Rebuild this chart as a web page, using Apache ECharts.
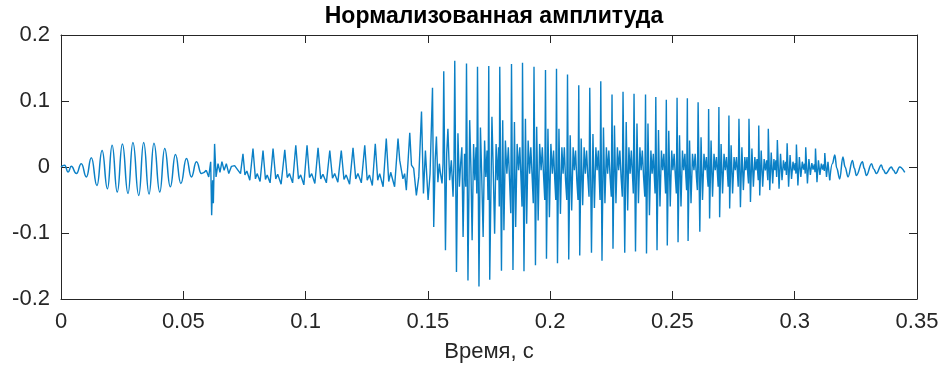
<!DOCTYPE html>
<html>
<head>
<meta charset="utf-8">
<script src="https://cdn.jsdelivr.net/npm/echarts@6/dist/echarts.min.js"></script>
<style>
html,body{margin:0;padding:0;background:#fff;}
#chart{width:944px;height:372px;}
</style>
</head>
<body>
<div id="chart"></div>
<script>
// ---- data: [time (s), normalized amplitude] ----
var titleText = 'Нормализованная амплитуда';
var xLabel = 'Время, с';
var xTicks = [0, 0.05, 0.1, 0.15, 0.2, 0.25, 0.3, 0.35];
var yTicks = [-0.2, -0.1, 0, 0.1, 0.2];

// quiet start with low-frequency oscillation and click near 0.062 s
var segStart = [
[0,0],[0.0015,0.0025],[0.0029,-0.0076],[0.0042,0.001],[0.0063,-0.010],[0.0083,0.005],[0.0104,-0.015],[0.0124,0.014],[0.0147,-0.028],[0.0168,0.025],[0.0190,-0.033],[0.0209,0.033],[0.0230,-0.038],[0.0251,0.035],[0.0274,-0.040],[0.0294,0.037],[0.0318,-0.043],[0.0338,0.037],[0.0360,-0.041],[0.0380,0.036],[0.0404,-0.038],[0.0424,0.028],[0.0447,-0.030],[0.0468,0.019],[0.0490,-0.025],[0.0513,0.013],[0.0533,-0.015],[0.0554,0.008],[0.0574,-0.010],[0.0594,-0.005]
];

// click near 0.062 s and low-amplitude periodic part 0.072 - 0.151 s
var segLow = [
[0.0594,-0.005],[0.0604,-0.015],[0.0612,0.008],[0.0616,-0.073],[0.0620,-0.020],[0.0623,-0.055],[0.0628,0.035],[0.0634,-0.015],[0.0642,0.005],[0.0650,-0.008],[0.0658,0.008],[0.0667,-0.005],[0.0676,0.005],[0.0686,-0.010],[0.0697,0.001],[0.0710,0.002],
[0.0724,-0.005],[0.0734,-0.010],[0.0744,0.020],[0.0752,-0.012],[0.0760,-0.006],[0.0772,-0.020],
[0.0785,0.028],[0.0795,-0.018],[0.0802,-0.010],[0.0814,-0.022],
[0.0826,0.025],[0.0836,-0.019],[0.0843,-0.012],[0.0855,-0.024],
[0.0867,0.028],[0.0878,-0.018],[0.0886,-0.011],[0.0900,-0.026],
[0.0915,0.026],[0.0925,-0.016],[0.0934,-0.010],[0.0947,-0.024],
[0.0960,0.033],[0.0971,-0.018],[0.0980,-0.012],[0.0993,-0.027],
[0.1006,0.033],[0.1016,-0.016],[0.1025,-0.010],[0.1038,-0.025],
[0.1051,0.029],[0.1062,-0.018],[0.1071,-0.011],[0.1085,-0.024],
[0.1099,0.025],[0.1110,-0.017],[0.1119,-0.010],[0.1132,-0.023],
[0.1146,0.025],[0.1157,-0.019],[0.1166,-0.012],[0.1180,-0.026],
[0.1194,0.029],[0.1205,-0.018],[0.1214,-0.010],[0.1228,-0.024],
[0.1242,0.033],[0.1252,-0.020],[0.1261,-0.012],[0.1273,-0.028],
[0.1285,0.035],[0.1295,-0.020],[0.1303,-0.010],[0.1317,-0.030],
[0.1330,0.043],[0.1340,-0.022],[0.1348,-0.008],[0.1364,-0.030],
[0.1378,0.043],[0.1385,0.010],[0.1392,-0.005],[0.1398,-0.018],[0.1405,-0.010],[0.1412,-0.035],
[0.1426,0.052],[0.1433,0.003],[0.1442,-0.002],[0.1453,-0.043],[0.1463,-0.015],
[0.1474,0.084],[0.1482,-0.040],[0.1490,0.025],[0.1501,-0.050],[0.1509,-0.010]
];

// loud voiced part 0.152 - 0.25 s
var segLoud = [
[0.1519,0.120],[0.1524,-0.091],[0.1530,0.010],[0.1535,0.046],[0.1541,-0.023],[0.1547,0.005],[0.1551,-0.008],[0.1558,-0.025],[0.1562,0.005],
[0.1565,0.145],[0.1572,-0.126],[0.1577,0.020],[0.1582,0.058],[0.1589,-0.020],[0.1596,0.010],[0.1603,-0.045],[0.1607,0.010],
[0.1610,0.161],[0.1617,-0.159],[0.1623,0.051],[0.1629,-0.030],[0.1634,0.005],[0.1639,0.030],[0.1644,-0.106],[0.1650,0.020],[0.1655,-0.030],
[0.1658,0.157],[0.1664,-0.172],[0.1671,0.071],[0.1676,0.000],[0.1681,-0.111],[0.1687,0.035],[0.1692,-0.020],[0.1697,0.030],[0.1700,-0.040],
[0.1703,0.152],[0.1709,-0.181],[0.1715,0.060],[0.1720,-0.010],[0.1726,-0.106],[0.1732,0.040],[0.1737,-0.015],[0.1742,0.025],[0.1746,-0.050],
[0.1749,0.153],[0.1753,-0.171],[0.1762,0.076],[0.1767,0.000],[0.1773,-0.101],[0.1779,0.035],[0.1784,-0.020],[0.1789,0.030],[0.1792,-0.060],
[0.1794,0.152],[0.1801,-0.157],[0.1806,0.071],[0.1811,-0.096],[0.1817,0.040],[0.1823,-0.010],[0.1829,0.030],[0.1834,-0.020],[0.1839,-0.070],
[0.1842,0.156],[0.1848,-0.156],[0.1854,0.068],[0.1859,-0.091],[0.1865,0.035],[0.1871,-0.005],[0.1876,0.030],[0.1881,-0.020],[0.1885,-0.060],
[0.1887,0.158],[0.1893,-0.158],[0.1899,0.073],[0.1904,-0.086],[0.1910,0.040],[0.1916,-0.010],[0.1921,0.030],[0.1927,-0.020],[0.1931,-0.055],
[0.1934,0.152],[0.1940,-0.149],[0.1945,0.061],[0.1951,-0.081],[0.1957,0.035],[0.1963,-0.005],[0.1968,0.030],[0.1974,-0.020],[0.1978,-0.050],
[0.1981,0.147],[0.1985,-0.139],[0.1991,0.058],[0.1997,-0.076],[0.2003,0.035],[0.2009,-0.010],[0.2014,0.025],[0.2019,-0.020],[0.2023,-0.050],
[0.2026,0.149],[0.2030,-0.146],[0.2036,0.058],[0.2042,-0.071],[0.2048,0.030],[0.2053,-0.010],[0.2058,0.030],[0.2063,-0.020],[0.2068,-0.050],
[0.2071,0.140],[0.2076,-0.140],[0.2082,0.048],[0.2088,-0.066],[0.2094,0.030],[0.2099,-0.005],[0.2104,0.025],[0.2109,-0.020],[0.2114,-0.050],
[0.2117,0.124],[0.2121,-0.134],[0.2127,0.043],[0.2133,-0.058],[0.2139,0.030],[0.2144,-0.010],[0.2149,0.025],[0.2154,-0.015],[0.2159,-0.045],
[0.2162,0.120],[0.2169,-0.130],[0.2175,0.050],[0.2181,-0.062],[0.2187,0.030],[0.2192,-0.005],[0.2197,0.025],[0.2201,-0.020],[0.2204,-0.050],
[0.2207,0.130],[0.2212,-0.142],[0.2218,0.060],[0.2224,-0.055],[0.2230,0.030],[0.2235,-0.010],[0.2240,0.025],[0.2245,-0.015],[0.2250,-0.045],
[0.2253,0.110],[0.2257,-0.124],[0.2263,0.063],[0.2269,-0.055],[0.2275,0.030],[0.2280,-0.005],[0.2285,0.025],[0.2290,-0.015],[0.2295,-0.045],
[0.2298,0.114],[0.2305,-0.130],[0.2311,0.068],[0.2317,-0.066],[0.2322,0.030],[0.2327,-0.010],[0.2332,0.025],[0.2337,-0.015],[0.2340,-0.040],
[0.2343,0.111],[0.2349,-0.128],[0.2355,0.066],[0.2361,-0.055],[0.2367,0.030],[0.2372,-0.005],[0.2377,0.025],[0.2382,-0.015],[0.2387,-0.045],
[0.2390,0.110],[0.2394,-0.131],[0.2400,0.066],[0.2406,-0.073],[0.2412,0.025],[0.2417,-0.010],[0.2422,0.020],[0.2426,-0.015],[0.2429,-0.040],
[0.2432,0.106],[0.2437,-0.126],[0.2443,0.056],[0.2449,-0.060],[0.2455,0.025],[0.2460,-0.005],[0.2465,0.020],[0.2469,-0.015],[0.2472,-0.040]
];

// decaying part 0.2475 - 0.3145 s
var segDecay = [
[0.2475,0.102],[0.2479,-0.119],[0.2485,0.055],[0.2491,-0.060],[0.2497,0.025],[0.2502,-0.005],[0.2507,0.020],[0.2512,-0.015],[0.2516,-0.040],
[0.2519,0.105],[0.2523,-0.114],[0.2529,0.048],[0.2535,-0.060],[0.2541,0.025],[0.2546,-0.005],[0.2551,0.020],[0.2555,-0.015],[0.2558,-0.035],
[0.2561,0.104],[0.2564,-0.112],[0.2570,0.040],[0.2576,-0.055],[0.2582,0.020],[0.2588,-0.005],[0.2593,0.020],[0.2598,-0.015],[0.2602,-0.035],
[0.2605,0.098],[0.2612,-0.098],[0.2617,0.045],[0.2623,-0.050],[0.2629,0.020],[0.2634,-0.005],[0.2639,0.015],[0.2643,-0.015],[0.2646,-0.030],
[0.2648,0.088],[0.2652,-0.078],[0.2658,0.040],[0.2664,-0.045],[0.2670,0.020],[0.2675,-0.005],[0.2680,0.015],[0.2684,-0.010],[0.2687,-0.030],
[0.2690,0.091],[0.2693,-0.076],[0.2699,0.035],[0.2705,-0.040],[0.2711,0.020],[0.2716,-0.005],[0.2721,0.015],[0.2725,-0.010],[0.2728,-0.030],
[0.2731,0.078],[0.2734,-0.063],[0.2740,0.033],[0.2746,-0.040],[0.2752,0.015],[0.2757,-0.005],[0.2762,0.015],[0.2766,-0.010],[0.2769,-0.030],
[0.2772,0.073],[0.2778,-0.061],[0.2784,0.030],[0.2790,-0.035],[0.2796,0.015],[0.2800,-0.005],[0.2805,0.015],[0.2808,-0.010],[0.2811,-0.025],
[0.2813,0.073],[0.2819,-0.053],[0.2825,0.028],[0.2831,-0.030],[0.2837,0.015],[0.2841,-0.005],[0.2846,0.012],[0.2849,-0.010],[0.2851,-0.020],
[0.2853,0.063],[0.2857,-0.043],[0.2863,0.025],[0.2869,-0.030],[0.2875,0.012],[0.2880,-0.005],[0.2885,0.010],[0.2888,-0.010],[0.2890,-0.020],
[0.2892,0.058],[0.2898,-0.035],[0.2904,0.022],[0.2910,-0.025],[0.2915,0.012],[0.2919,-0.005],[0.2923,0.010],[0.2926,-0.015],
[0.2929,0.041],[0.2936,-0.033],[0.2942,0.020],[0.2948,-0.020],[0.2954,0.010],[0.2959,-0.005],[0.2963,0.008],[0.2966,-0.012],
[0.2969,0.036],[0.2975,-0.030],[0.2981,0.018],[0.2987,-0.018],[0.2993,0.008],[0.2998,-0.005],[0.3002,0.006],[0.3005,-0.010],
[0.3007,0.034],[0.3013,-0.028],[0.3019,0.015],[0.3025,-0.015],[0.3031,0.008],[0.3036,-0.004],[0.3040,0.005],[0.3043,-0.010],
[0.3045,0.030],[0.3052,-0.025],[0.3058,0.012],[0.3064,-0.012],[0.3070,0.006],[0.3075,-0.004],[0.3080,0.004],[0.3083,-0.008],
[0.3085,0.028],[0.3091,-0.023],[0.3097,0.010],[0.3103,-0.012],[0.3109,0.005],[0.3114,-0.004],[0.3118,0.004],[0.3121,-0.006],
[0.3123,0.021],[0.3130,-0.015],[0.3136,0.008],[0.3143,-0.020]
];

// fading tail 0.314 - 0.345 s
var segTail = [
[0.3143,-0.020],[0.3154,0.005],[0.3164,0.018],[0.3172,-0.002],[0.3184,-0.018],[0.3197,0.015],[0.3206,0.000],[0.3218,-0.015],[0.3236,0.010],[0.3244,-0.002],[0.3252,-0.013],[0.3277,0.008],[0.3284,-0.002],[0.3293,-0.013],[0.3314,0.005],[0.3323,-0.003],[0.3334,-0.010],[0.3354,0.003],[0.3362,-0.004],[0.3372,-0.010],[0.3395,0.000],[0.3404,-0.005],[0.3413,-0.010],[0.3429,0.000],[0.3450,-0.008]
];

var sharpPart = [].concat(segLow, segLoud, segDecay);

var chart = echarts.init(document.getElementById('chart'), null, {renderer: 'canvas'});
var axisColor = '#262626';
var lineColor = '#0b80c6';
var font = "'Liberation Sans', Arial, sans-serif";
var tickStyle = {inside: true, length: 8, lineStyle: {color: axisColor, width: 1}};
var lineStyleAx = {color: axisColor, width: 1};
function fmt(v) { return String(+v.toFixed(2)); }

chart.setOption({
  animation: false,
  backgroundColor: '#ffffff',
  title: {
    text: titleText,
    left: 489, top: 0, textAlign: 'center',
    textStyle: {fontFamily: font, fontWeight: 'bold', fontSize: 23, color: '#000000'}
  },
  grid: {left: 61, right: 27, top: 35, bottom: 73, containLabel: false},
  xAxis: [{
    type: 'value', min: 0, max: 0.35, interval: 0.05,
    axisLine: {show: true, onZero: false, lineStyle: lineStyleAx},
    axisTick: tickStyle,
    splitLine: {show: false},
    axisLabel: {color: axisColor, fontFamily: font, fontSize: 22, margin: 12, formatter: fmt},
    name: xLabel, nameLocation: 'middle', nameGap: 42,
    nameTextStyle: {color: axisColor, fontFamily: font, fontSize: 22}
  }, {
    type: 'value', position: 'top', min: 0, max: 0.35, interval: 0.05,
    axisLine: {show: true, onZero: false, lineStyle: lineStyleAx},
    axisTick: tickStyle, axisLabel: {show: false}, splitLine: {show: false}
  }],
  yAxis: [{
    type: 'value', min: -0.2, max: 0.2, interval: 0.1,
    axisLine: {show: true, onZero: false, lineStyle: lineStyleAx},
    axisTick: tickStyle,
    splitLine: {show: false},
    axisLabel: {color: axisColor, fontFamily: font, fontSize: 22, margin: 11, formatter: fmt}
  }, {
    type: 'value', position: 'right', min: -0.2, max: 0.2, interval: 0.1,
    axisLine: {show: true, onZero: false, lineStyle: lineStyleAx},
    axisTick: tickStyle, axisLabel: {show: false}, splitLine: {show: false}
  }],
  series: [{
    type: 'line', data: segStart, symbol: 'none', showSymbol: false,
    smooth: 0.5, smoothMonotone: 'x',
    lineStyle: {color: lineColor, width: 1.5}, clip: true
  }, {
    type: 'line', data: sharpPart, symbol: 'none', showSymbol: false,
    sampling: null,
    lineStyle: {color: lineColor, width: 1.4}, clip: true
  }, {
    type: 'line', data: segTail, symbol: 'none', showSymbol: false,
    smooth: 0.4, smoothMonotone: 'x',
    lineStyle: {color: lineColor, width: 1.5}, clip: true
  }]
});
</script>
</body>
</html>
